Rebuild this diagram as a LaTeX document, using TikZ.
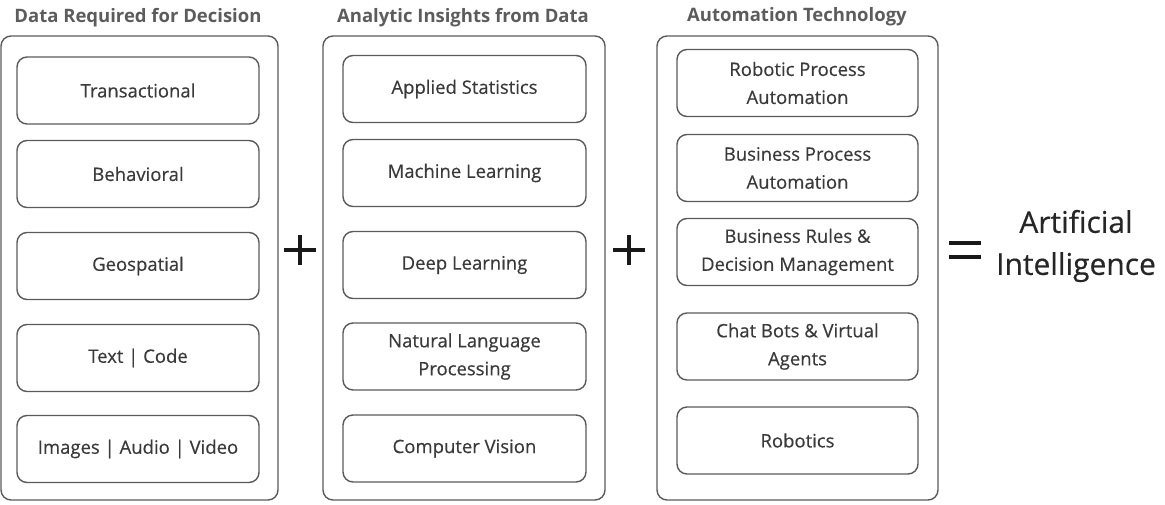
\documentclass[tikz,border=0pt]{standalone}
\usepackage{fontspec}
\setmainfont{Open Sans}
\newfontfamily\medfont{Open Sans}[FakeBold=0.4]
\definecolor{linegray}{HTML}{5A5A5A}
\definecolor{headgray}{HTML}{5C5C5C}
\definecolor{txtgray}{HTML}{3A3A3A}
\tikzset{
  outerbox/.style={draw=linegray, line width=1.4pt, rounded corners=10pt, minimum height=464pt, inner sep=0pt},
  itembox/.style={draw=linegray, line width=1.4pt, rounded corners=10pt, minimum height=67pt, align=center, text=txtgray, font=\medfont\fontsize{18.5}{28}\selectfont, inner sep=0pt},
  header/.style={text=headgray, font=\bfseries\fontsize{18.5}{20}\selectfont, inner sep=0pt},
  opline/.style={line width=3.6pt, black!90},
}
\begin{document}
\begin{tikzpicture}[x=1pt,y=-1pt]
\useasboundingbox (0,0) rectangle (1165,505);
% outer groups
\node[outerbox, minimum width=277pt] (g1) at (139.5,268) {};
\node[outerbox, minimum width=282pt] (g2) at (464,268) {};
\node[outerbox, minimum width=281pt] (g3) at (797.5,268) {};
% headers
\node[header] (h1) at (138,18) {Data Required for Decision};
\node[header] (h2) at (463,18) {Analytic Insights from Data};
\node[header] (h3) at (797,17) {Automation Technology};
% column 1
\node[itembox, minimum width=242pt] (a1) at (138,90.5) {Transactional};
\node[itembox, minimum width=242pt] (a2) at (138,174) {Behavioral};
\node[itembox, minimum width=242pt] (a3) at (138,266) {Geospatial};
\node[itembox, minimum width=242pt] (a4) at (138,358) {Text | Code};
\node[itembox, minimum width=242pt] (a5) at (138,449) {Images | Audio | Video};
% column 2
\node[itembox, minimum width=243pt] (b1) at (464.5,89) {Applied Statistics};
\node[itembox, minimum width=243pt] (b2) at (464.5,173) {Machine Learning};
\node[itembox, minimum width=243pt] (b3) at (464.5,265) {Deep Learning};
\node[itembox, minimum width=243pt] (b4) at (464.5,356.5) {Natural Language\\Processing};
\node[itembox, minimum width=243pt] (b5) at (464.5,448.5) {Computer Vision};
% column 3
\node[itembox, minimum width=241pt] (c1) at (797.5,83) {Robotic Process\\Automation};
\node[itembox, minimum width=241pt] (c2) at (797.5,168) {Business Process\\Automation};
\node[itembox, minimum width=241pt] (c3) at (797.5,252) {Business Rules \&\\Decision Management};
\node[itembox, minimum width=241pt] (c4) at (797.5,346.5) {Chat Bots \& Virtual\\Agents};
\node[itembox, minimum width=241pt] (c5) at (797.5,440.5) {Robotics};
% operators
\coordinate (p1) at (300,250);
\coordinate (p2) at (629,250);
\draw[opline] ([xshift=-16pt]p1) -- ([xshift=16pt]p1);
\draw[opline] ([yshift=-15pt]p1) -- ([yshift=15pt]p1);
\draw[opline] ([xshift=-16pt]p2) -- ([xshift=16pt]p2);
\draw[opline] ([yshift=-15pt]p2) -- ([yshift=15pt]p2);
\coordinate (eq) at (965,250);
\draw[opline] ([xshift=-16pt,yshift=-7pt]eq) -- ([xshift=16pt,yshift=-7pt]eq);
\draw[opline] ([xshift=-16pt,yshift=7pt]eq) -- ([xshift=16pt,yshift=7pt]eq);
\node[align=center, text=black!85, font=\medfont\fontsize{30}{42}\selectfont, inner sep=0pt] (ai) at (1076,246) {Artificial\\Intelligence};
\end{tikzpicture}
\end{document}
